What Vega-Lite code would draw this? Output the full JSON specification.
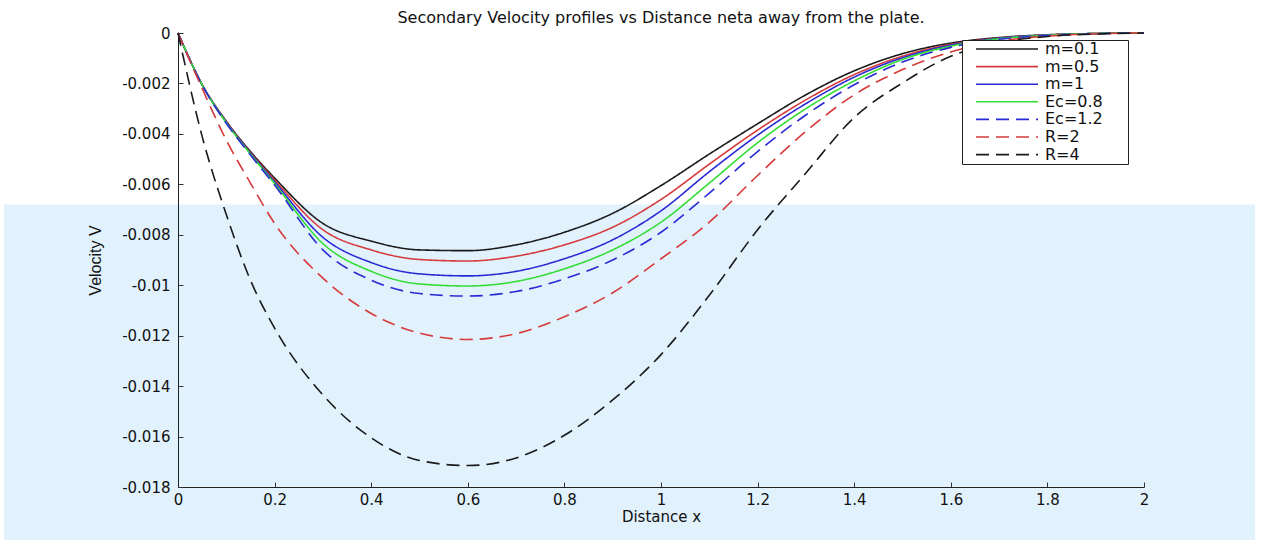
{
  "$schema": "https://vega.github.io/schema/vega-lite/v6.json",
  "width": 966,
  "height": 454,
  "autosize": {"type": "none"},
  "padding": {"left": 178, "top": 33, "right": 118, "bottom": 55},
  "background": "white",
  "config": {"view": {"stroke": null}, "font": "DejaVu Sans"},
  "title": {"text": "Secondary Velocity profiles vs Distance neta away from  the plate.", "font": "DejaVu Sans", "fontSize": 16, "fontWeight": "normal", "color": "#111", "anchor": "middle", "offset": 0},
  "datasets": {
    "band": [{"x0": -0.36, "x1": 2.23, "v0": -0.0068, "v1": -0.0201}],
    "curves": [
      {"x":0,"v":0,"s":"m=0.1"},{"x":0.05,"v":-0.00205,"s":"m=0.1"},{"x":0.1,"v":-0.0035,"s":"m=0.1"},{"x":0.15,"v":-0.0047,"s":"m=0.1"},{"x":0.2,"v":-0.00575,"s":"m=0.1"},{"x":0.3,"v":-0.00755,"s":"m=0.1"},{"x":0.4,"v":-0.00825,"s":"m=0.1"},{"x":0.5,"v":-0.0086,"s":"m=0.1"},{"x":0.6,"v":-0.00863,"s":"m=0.1"},{"x":0.7,"v":-0.0084,"s":"m=0.1"},{"x":0.8,"v":-0.0079,"s":"m=0.1"},{"x":0.9,"v":-0.00715,"s":"m=0.1"},{"x":1.0,"v":-0.00605,"s":"m=0.1"},{"x":1.1,"v":-0.0048,"s":"m=0.1"},{"x":1.2,"v":-0.0036,"s":"m=0.1"},{"x":1.3,"v":-0.00245,"s":"m=0.1"},{"x":1.4,"v":-0.0015,"s":"m=0.1"},{"x":1.5,"v":-0.00082,"s":"m=0.1"},{"x":1.6,"v":-0.0004,"s":"m=0.1"},{"x":1.7,"v":-0.00018,"s":"m=0.1"},{"x":1.8,"v":-0.00007,"s":"m=0.1"},{"x":1.9,"v":-0.00002,"s":"m=0.1"},{"x":2.0,"v":0,"s":"m=0.1"},
      {"x":0,"v":0,"s":"m=0.5"},{"x":0.05,"v":-0.00205,"s":"m=0.5"},{"x":0.1,"v":-0.00352,"s":"m=0.5"},{"x":0.15,"v":-0.00474,"s":"m=0.5"},{"x":0.2,"v":-0.00583,"s":"m=0.5"},{"x":0.3,"v":-0.0078,"s":"m=0.5"},{"x":0.4,"v":-0.0086,"s":"m=0.5"},{"x":0.5,"v":-0.00898,"s":"m=0.5"},{"x":0.6,"v":-0.00904,"s":"m=0.5"},{"x":0.7,"v":-0.00885,"s":"m=0.5"},{"x":0.8,"v":-0.0084,"s":"m=0.5"},{"x":0.9,"v":-0.0077,"s":"m=0.5"},{"x":1.0,"v":-0.0066,"s":"m=0.5"},{"x":1.1,"v":-0.0052,"s":"m=0.5"},{"x":1.2,"v":-0.00385,"s":"m=0.5"},{"x":1.3,"v":-0.00265,"s":"m=0.5"},{"x":1.4,"v":-0.00165,"s":"m=0.5"},{"x":1.5,"v":-0.00092,"s":"m=0.5"},{"x":1.6,"v":-0.00045,"s":"m=0.5"},{"x":1.7,"v":-0.0002,"s":"m=0.5"},{"x":1.8,"v":-0.00008,"s":"m=0.5"},{"x":1.9,"v":-0.00002,"s":"m=0.5"},{"x":2.0,"v":0,"s":"m=0.5"},
      {"x":0,"v":0,"s":"m=1"},{"x":0.05,"v":-0.00205,"s":"m=1"},{"x":0.1,"v":-0.00354,"s":"m=1"},{"x":0.15,"v":-0.00477,"s":"m=1"},{"x":0.2,"v":-0.0059,"s":"m=1"},{"x":0.3,"v":-0.0081,"s":"m=1"},{"x":0.4,"v":-0.0091,"s":"m=1"},{"x":0.5,"v":-0.00955,"s":"m=1"},{"x":0.6,"v":-0.00963,"s":"m=1"},{"x":0.7,"v":-0.00945,"s":"m=1"},{"x":0.8,"v":-0.00895,"s":"m=1"},{"x":0.9,"v":-0.0082,"s":"m=1"},{"x":1.0,"v":-0.00705,"s":"m=1"},{"x":1.1,"v":-0.0055,"s":"m=1"},{"x":1.2,"v":-0.00405,"s":"m=1"},{"x":1.3,"v":-0.0028,"s":"m=1"},{"x":1.4,"v":-0.00175,"s":"m=1"},{"x":1.5,"v":-0.00098,"s":"m=1"},{"x":1.6,"v":-0.00048,"s":"m=1"},{"x":1.7,"v":-0.00021,"s":"m=1"},{"x":1.8,"v":-0.00008,"s":"m=1"},{"x":1.9,"v":-0.00002,"s":"m=1"},{"x":2.0,"v":0,"s":"m=1"},
      {"x":0,"v":0,"s":"Ec=0.8"},{"x":0.05,"v":-0.00206,"s":"Ec=0.8"},{"x":0.1,"v":-0.00356,"s":"Ec=0.8"},{"x":0.15,"v":-0.0048,"s":"Ec=0.8"},{"x":0.2,"v":-0.00597,"s":"Ec=0.8"},{"x":0.3,"v":-0.00835,"s":"Ec=0.8"},{"x":0.4,"v":-0.00945,"s":"Ec=0.8"},{"x":0.5,"v":-0.00995,"s":"Ec=0.8"},{"x":0.6,"v":-0.01003,"s":"Ec=0.8"},{"x":0.7,"v":-0.00985,"s":"Ec=0.8"},{"x":0.8,"v":-0.00935,"s":"Ec=0.8"},{"x":0.9,"v":-0.0086,"s":"Ec=0.8"},{"x":1.0,"v":-0.0075,"s":"Ec=0.8"},{"x":1.1,"v":-0.00595,"s":"Ec=0.8"},{"x":1.2,"v":-0.00435,"s":"Ec=0.8"},{"x":1.3,"v":-0.003,"s":"Ec=0.8"},{"x":1.4,"v":-0.0019,"s":"Ec=0.8"},{"x":1.5,"v":-0.00105,"s":"Ec=0.8"},{"x":1.6,"v":-0.00052,"s":"Ec=0.8"},{"x":1.7,"v":-0.00023,"s":"Ec=0.8"},{"x":1.8,"v":-0.00009,"s":"Ec=0.8"},{"x":1.9,"v":-0.00002,"s":"Ec=0.8"},{"x":2.0,"v":0,"s":"Ec=0.8"},
      {"x":0,"v":0,"s":"Ec=1.2"},{"x":0.05,"v":-0.00207,"s":"Ec=1.2"},{"x":0.1,"v":-0.00358,"s":"Ec=1.2"},{"x":0.15,"v":-0.00484,"s":"Ec=1.2"},{"x":0.2,"v":-0.00603,"s":"Ec=1.2"},{"x":0.3,"v":-0.0086,"s":"Ec=1.2"},{"x":0.4,"v":-0.0098,"s":"Ec=1.2"},{"x":0.5,"v":-0.01033,"s":"Ec=1.2"},{"x":0.6,"v":-0.01043,"s":"Ec=1.2"},{"x":0.7,"v":-0.01025,"s":"Ec=1.2"},{"x":0.8,"v":-0.00975,"s":"Ec=1.2"},{"x":0.9,"v":-0.009,"s":"Ec=1.2"},{"x":1.0,"v":-0.0079,"s":"Ec=1.2"},{"x":1.1,"v":-0.00635,"s":"Ec=1.2"},{"x":1.2,"v":-0.0047,"s":"Ec=1.2"},{"x":1.3,"v":-0.00325,"s":"Ec=1.2"},{"x":1.4,"v":-0.00205,"s":"Ec=1.2"},{"x":1.5,"v":-0.00115,"s":"Ec=1.2"},{"x":1.6,"v":-0.00057,"s":"Ec=1.2"},{"x":1.7,"v":-0.00025,"s":"Ec=1.2"},{"x":1.8,"v":-0.0001,"s":"Ec=1.2"},{"x":1.9,"v":-0.00003,"s":"Ec=1.2"},{"x":2.0,"v":0,"s":"Ec=1.2"},
      {"x":0,"v":0,"s":"R=2"},{"x":0.05,"v":-0.0022,"s":"R=2"},{"x":0.1,"v":-0.00425,"s":"R=2"},{"x":0.15,"v":-0.00595,"s":"R=2"},{"x":0.2,"v":-0.00755,"s":"R=2"},{"x":0.3,"v":-0.00972,"s":"R=2"},{"x":0.4,"v":-0.01112,"s":"R=2"},{"x":0.5,"v":-0.0119,"s":"R=2"},{"x":0.6,"v":-0.01215,"s":"R=2"},{"x":0.7,"v":-0.01192,"s":"R=2"},{"x":0.8,"v":-0.01125,"s":"R=2"},{"x":0.9,"v":-0.0103,"s":"R=2"},{"x":1.0,"v":-0.00895,"s":"R=2"},{"x":1.1,"v":-0.0075,"s":"R=2"},{"x":1.2,"v":-0.00565,"s":"R=2"},{"x":1.3,"v":-0.0039,"s":"R=2"},{"x":1.4,"v":-0.00245,"s":"R=2"},{"x":1.5,"v":-0.00145,"s":"R=2"},{"x":1.6,"v":-0.00075,"s":"R=2"},{"x":1.7,"v":-0.00033,"s":"R=2"},{"x":1.8,"v":-0.00012,"s":"R=2"},{"x":1.9,"v":-0.00003,"s":"R=2"},{"x":2.0,"v":0,"s":"R=2"},
      {"x":0,"v":0,"s":"R=4"},{"x":0.05,"v":-0.0041,"s":"R=4"},{"x":0.1,"v":-0.0072,"s":"R=4"},{"x":0.15,"v":-0.0098,"s":"R=4"},{"x":0.2,"v":-0.0117,"s":"R=4"},{"x":0.3,"v":-0.01435,"s":"R=4"},{"x":0.4,"v":-0.01605,"s":"R=4"},{"x":0.5,"v":-0.01695,"s":"R=4"},{"x":0.6,"v":-0.01715,"s":"R=4"},{"x":0.7,"v":-0.01685,"s":"R=4"},{"x":0.8,"v":-0.01595,"s":"R=4"},{"x":0.9,"v":-0.01455,"s":"R=4"},{"x":1.0,"v":-0.01275,"s":"R=4"},{"x":1.1,"v":-0.0104,"s":"R=4"},{"x":1.2,"v":-0.0078,"s":"R=4"},{"x":1.3,"v":-0.00555,"s":"R=4"},{"x":1.4,"v":-0.00335,"s":"R=4"},{"x":1.5,"v":-0.00198,"s":"R=4"},{"x":1.6,"v":-0.00092,"s":"R=4"},{"x":1.7,"v":-0.00038,"s":"R=4"},{"x":1.8,"v":-0.00014,"s":"R=4"},{"x":1.9,"v":-0.00004,"s":"R=4"},{"x":2.0,"v":0,"s":"R=4"}
    ]
  },
  "layer": [
    {
      "data": {"name": "band"},
      "mark": {"type": "rect", "color": "#e1f2fd", "clip": false},
      "encoding": {
        "x": {
          "field": "x0", "type": "quantitative", "title": "Distance x",
          "scale": {"domain": [0, 2], "nice": false, "zero": false},
          "axis": {
            "values": [0, 0.2, 0.4, 0.6, 0.8, 1, 1.2, 1.4, 1.6, 1.8, 2],
            "format": "~g", "labelFlush": false, "labelOverlap": false,
            "labelFont": "DejaVu Sans", "labelFontSize": 15, "labelColor": "#111",
            "tickSize": -5, "tickColor": "#333", "domainColor": "#222", "labelPadding": 10,
            "grid": false, "zindex": 1,
            "title": "Distance x", "titleFont": "DejaVu Sans", "titleFontSize": 15, "titleFontWeight": "normal", "titleColor": "#111", "titlePadding": 2
          }
        },
        "x2": {"field": "x1"},
        "y": {
          "field": "v0", "type": "quantitative", "title": "Velocity V",
          "scale": {"domain": [-0.018, 0], "nice": false, "zero": false},
          "axis": {
            "values": [0, -0.002, -0.004, -0.006, -0.008, -0.01, -0.012, -0.014, -0.016, -0.018],
            "labelExpr": "datum.value < 0 ? '-' + format(-datum.value, '~g') : '0'",
            "labelFlush": false, "labelOverlap": false,
            "labelFont": "DejaVu Sans", "labelFontSize": 15, "labelColor": "#111",
            "tickSize": -5, "tickColor": "#333", "domainColor": "#222", "labelPadding": 13,
            "grid": false, "zindex": 1,
            "title": "Velocity V", "titleFont": "Liberation Sans", "titleFontSize": 16, "titleFontWeight": "normal", "titleColor": "#111", "titlePadding": 18
          }
        },
        "y2": {"field": "v1"}
      }
    },
    {
      "data": {"name": "curves"},
      "mark": {"type": "line", "interpolate": "monotone", "strokeWidth": 1.6},
      "encoding": {
        "x": {
          "field": "x", "type": "quantitative", "title": "Distance x",
          "scale": {"domain": [0, 2], "nice": false, "zero": false},
          "axis": {
            "values": [0, 0.2, 0.4, 0.6, 0.8, 1, 1.2, 1.4, 1.6, 1.8, 2],
            "format": "~g", "labelFlush": false, "labelOverlap": false,
            "labelFont": "DejaVu Sans", "labelFontSize": 15, "labelColor": "#111",
            "tickSize": -5, "tickColor": "#333", "domainColor": "#222", "labelPadding": 10,
            "grid": false, "zindex": 1,
            "title": "Distance x", "titleFont": "DejaVu Sans", "titleFontSize": 15, "titleFontWeight": "normal", "titleColor": "#111", "titlePadding": 2
          }
        },
        "y": {
          "field": "v", "type": "quantitative", "title": "Velocity V",
          "scale": {"domain": [-0.018, 0], "nice": false, "zero": false},
          "axis": {
            "values": [0, -0.002, -0.004, -0.006, -0.008, -0.01, -0.012, -0.014, -0.016, -0.018],
            "labelExpr": "datum.value < 0 ? '-' + format(-datum.value, '~g') : '0'",
            "labelFlush": false, "labelOverlap": false,
            "labelFont": "DejaVu Sans", "labelFontSize": 15, "labelColor": "#111",
            "tickSize": -5, "tickColor": "#333", "domainColor": "#222", "labelPadding": 13,
            "grid": false, "zindex": 1,
            "title": "Velocity V", "titleFont": "Liberation Sans", "titleFontSize": 16, "titleFontWeight": "normal", "titleColor": "#111", "titlePadding": 18
          }
        },
        "color": {
          "field": "s", "type": "nominal", "title": null,
          "scale": {"domain": ["m=0.1", "m=0.5", "m=1", "Ec=0.8", "Ec=1.2", "R=2", "R=4"], "range": ["#1a1a1a", "#d63a3a", "#2a2ad4", "#33dd33", "#2a2ad4", "#d63a3a", "#1a1a1a"]},
          "legend": {"orient": "none", "legendX": 784, "legendY": 7, "symbolType": "M1,0H13.4M30.4,0", "symbolSize": 100, "symbolStrokeWidth": 1.6, "symbolFillColor": "transparent", "labelFont": "DejaVu Sans", "labelFontSize": 16, "labelColor": "#111", "labelOffset": 66, "rowPadding": 1.6, "padding": 1, "strokeColor": "#222", "fillColor": "white"}
        },
        "strokeDash": {
          "field": "s", "type": "nominal", "title": null,
          "scale": {"domain": ["m=0.1", "m=0.5", "m=1", "Ec=0.8", "Ec=1.2", "R=2", "R=4"], "range": [[1, 0], [1, 0], [1, 0], [1, 0], [13, 7], [13, 7], [13, 7]]},
          "legend": {"orient": "none", "legendX": 784, "legendY": 7, "symbolType": "M1,0H13.4M30.4,0", "symbolSize": 100, "symbolStrokeWidth": 1.6, "symbolFillColor": "transparent", "labelFont": "DejaVu Sans", "labelFontSize": 16, "labelColor": "#111", "labelOffset": 66, "rowPadding": 1.6, "padding": 1, "strokeColor": "#222", "fillColor": "white"}
        }
      }
    }
  ]
}
